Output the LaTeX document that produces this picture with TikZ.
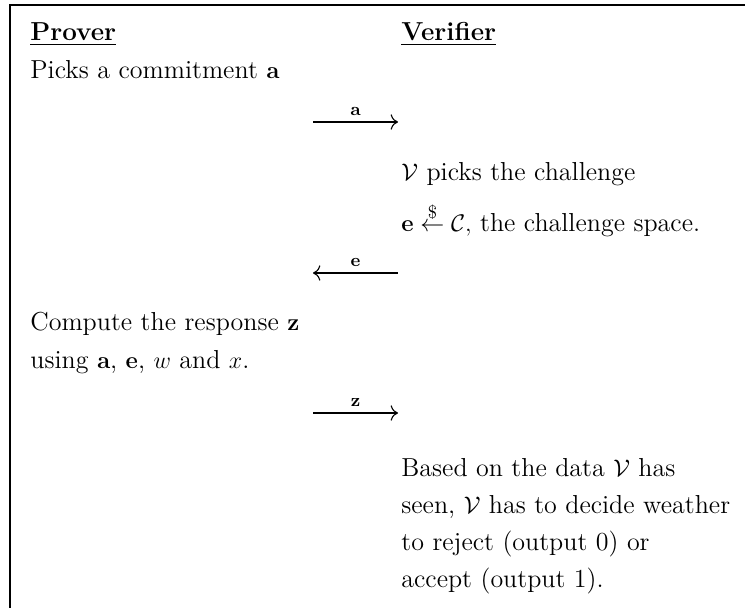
\documentclass[tikz,border=0pt]{standalone}
\usepackage{amsmath}
\usetikzlibrary{positioning,arrows.meta}
\tikzstyle{txt}=[anchor=base west, inner sep=0pt, font=\fontsize{13}{19}\selectfont]
\tikzstyle{msgright}=[-{Computer Modern Rightarrow[scale=1.3]}, line width=0.55pt]
\tikzstyle{msgleft}=[{Computer Modern Rightarrow[scale=1.3]}-, line width=0.55pt]
\tikzstyle{lbl}=[above, inner sep=3pt, font=\small]
\newcommand{\msgarrow}[3]
{
  \coordinate (#1s) at (313,#2);
  \coordinate (#1e) at (398,#2);
  \draw[#3] (#1s) -- node[lbl](#1lbl){$\mathbf{#1}$} (#1e);
}
\begin{document}
\begin{tikzpicture}[x=0.5pt,y=-0.5pt]
	\useasboundingbox (0,0) rectangle (745,608);
	\draw[line width=1pt] (10,608) -- (10,5) -- (745,5);

	\node[txt](prover) at (30,41) {\underline{\textbf{Prover}}};
	\node[txt](verifier) at (401,41) {\underline{\textbf{Verifier}}};

	\node[txt](commit) at (30,79) {Picks a commitment $\mathbf{a}$};
	\msgarrow{a}{122}{msgright}

	\node[txt](pick) at (401,181) {$\mathcal{V}$ picks the challenge};
	\node[txt](sample) at (401,232) {$\mathbf{e} \overset{\$}{\leftarrow} \mathcal{C},$ the challenge space.};
	\msgarrow{e}{273}{msgleft}

	\node[txt](resp1) at (30,331) {Compute the response $\mathbf{z}$};
	\node[txt](resp2) at (30,369) {using $\mathbf{a}$, $\mathbf{e}$, $w$ and $x$.};
	\msgarrow{z}{413}{msgright}

	% verifier's decision
	\node[txt](dec1) at (401,477) {Based on the data $\mathcal{V}$ has};
	\node[txt](dec2) at (401,514) {seen, $\mathcal{V}$ has to decide weather};
	\node[txt](dec3) at (401,551) {to reject (output 0) or};
	\node[txt](dec4) at (401,588) {accept (output 1).};
\end{tikzpicture}
\end{document}
